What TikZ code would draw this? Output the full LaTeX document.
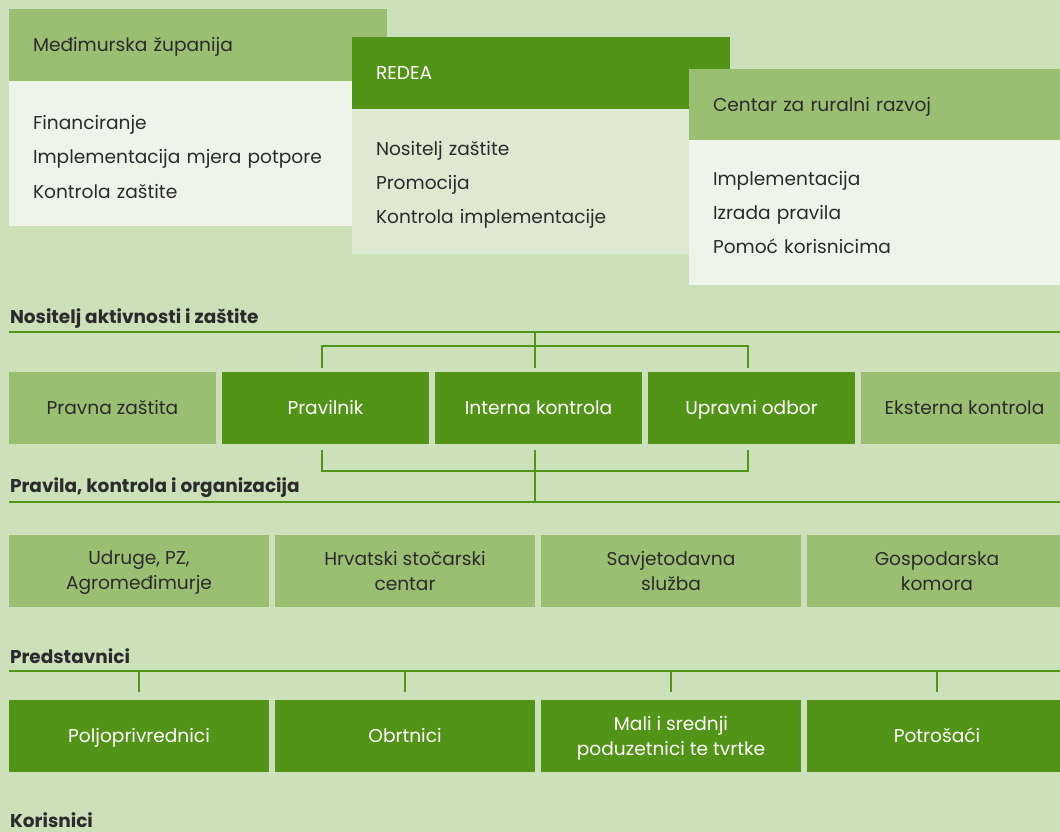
\documentclass[tikz,border=0pt]{standalone}
\usepackage{fontspec}
\setmainfont{Poppins}
\usetikzlibrary{calc}
\definecolor{bg}{HTML}{CCE0BA}
\definecolor{mid}{HTML}{9ABF73}
\definecolor{dark}{HTML}{529417}
\definecolor{pale}{HTML}{EFF4E9}
\definecolor{pale2}{HTML}{DEE9D1}
\definecolor{ink}{HTML}{2B2B2B}
\newcommand\mytop[1]{\rule{0pt}{#1pt}}
\newcommand\mybot[1]{\rule[-#1pt]{0pt}{#1pt}}
\begin{document}
\begin{tikzpicture}[x=1pt,y=-1pt,
  every node/.style={inner sep=0pt, outer sep=0pt, text=ink, font=\fontsize{18.6}{22}\selectfont},
  hdr/.style={anchor=north west, minimum height=72pt, text width=330pt, inner xsep=24pt, align=left, text height=13.5pt, text depth=0pt},
  body/.style={anchor=north west, minimum height=145pt, text width=330pt, inner xsep=24pt, align=left, font=\fontsize{18.6}{34.5}\selectfont},
  cell/.style={anchor=north west, minimum height=72pt, align=center, font=\fontsize{18.6}{25}\selectfont},
  one/.style={text height=13pt, text depth=0pt},
  nar/.style={cell, one, minimum width=207pt},
  wide/.style={cell, minimum width=260pt},
  light/.style={fill=mid, text=ink},
  strong/.style={fill=dark, text=white},
  sect/.style={anchor=base west, font=\fontsize{18.5}{20}\selectfont\bfseries},
  conn/.style={draw=dark, line width=1.7pt}
]
\path[use as bounding box, fill=bg] (0,0) rectangle (1060,832);

% top cards
\node[hdr, light] (h1) at (9,9) {Međimurska županija};
\node[body, fill=pale, minimum width=378pt] (b1) at (9,81) {\mytop{26}Financiranje\\Implementacija mjera potpore\\Kontrola zaštite\mybot{5}};
\node[hdr, strong] (h2) at (352,37) {REDEA};
\node[body, fill=pale2] (b2) at (352,109) {\mytop{21}Nositelj zaštite\\Promocija\\Kontrola implementacije\mybot{5}};
\node[hdr, light] (h3) at (689,69) {Centar za ruralni razvoj};
\node[body, fill=pale] (b3) at (689,140) {\mytop{19}Implementacija\\Izrada pravila\\Pomoć korisnicima\mybot{5}};

% section 1
\node[sect] (s1) at (10,323) {Nositelj aktivnosti i zaštite};
\coordinate (l1a) at (9,332);
\coordinate (l1b) at (1060,332);
\draw[conn] (l1a) -- (l1b);

\node[nar, light] (pz) at (9,372) {Pravna zaštita};
\node[nar, strong] (pl) at (222,372) {Pravilnik};
\node[nar, strong] (ik) at (435,372) {Interna kontrola};
\node[nar, strong] (uo) at (648,372) {Upravni odbor};
\node[nar, light] (ek) at (861,372) {Eksterna kontrola};

\draw[conn] ([xshift=-3.5pt]ik.north |- l1a) -- ([xshift=-3.5pt,yshift=4pt]ik.north);
\draw[conn] ([xshift=-3.5pt,yshift=4pt]pl.north) -- ++(0,-22) -| ([xshift=-3.5pt,yshift=4pt]uo.north);

% section 2
\node[sect] (s2) at (10,492) {Pravila, kontrola i organizacija};
\coordinate (l2a) at (9,502);
\coordinate (l2b) at (1060,502);
\draw[conn] (l2a) -- (l2b);
\draw[conn] ([xshift=-3.5pt,yshift=-6pt]pl.south) -- ++(0,21) -| ([xshift=-3.5pt,yshift=-6pt]uo.south);
\draw[conn] ([xshift=-3.5pt,yshift=-6pt]ik.south) -- ([xshift=-3.5pt]ik.south |- l2a);

\node[wide, light] (ud) at (9,535) {\mytop{18}Udruge, PZ,\\Agromeđimurje\mybot{5}};
\node[wide, light] (hs) at (275,535) {\mytop{18}Hrvatski stočarski\\centar\mybot{5}};
\node[wide, light] (sa) at (541,535) {\mytop{18}Savjetodavna\\služba\mybot{5}};
\node[wide, light] (gk) at (807,535) {\mytop{18}Gospodarska\\komora\mybot{5}};

% section 3
\node[sect] (s3) at (10,663) {Predstavnici};
\coordinate (l3a) at (9,671);
\coordinate (l3b) at (1060,671);
\draw[conn] (l3a) -- (l3b);

\node[wide, one, strong] (po) at (9,700) {Poljoprivrednici};
\node[wide, one, strong] (ob) at (275,700) {Obrtnici};
\node[wide, strong] (ms) at (541,700) {\mytop{18}Mali i srednji\\poduzetnici te tvrtke\mybot{5}};
\node[wide, one, strong] (pt) at (807,700) {Potrošaći};

\foreach \n in {po,ob,ms,pt}{
  \draw[conn] (\n.north |- l3a) -- ([yshift=8pt]\n.north);
}

\node[sect] (s4) at (10,827) {Korisnici};
\end{tikzpicture}
\end{document}
